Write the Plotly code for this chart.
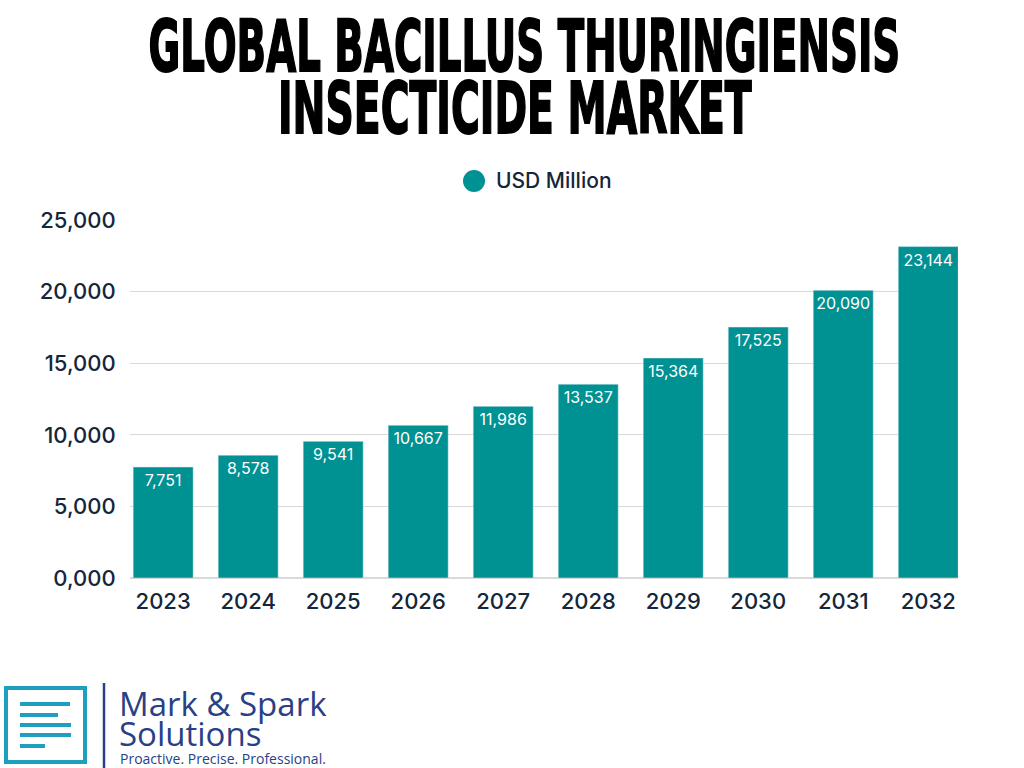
import plotly.graph_objects as go

years = ["2023", "2024", "2025", "2026", "2027", "2028", "2029", "2030", "2031", "2032"]
values = [7751, 8578, 9541, 10667, 11986, 13537, 15364, 17525, 20090, 23144]
tick_vals = [0, 5000, 10000, 15000, 20000, 25000]
tick_text = ["0,000", "5,000", "10,000", "15,000", "20,000", "25,000"]
series_name = "USD Million"
title_lines = ["GLOBAL BACILLUS THURINGIENSIS", "INSECTICIDE MARKET"]

W, H = 1024, 768
ML, MR, MT, MB = 130, 66, 220, 190
PW, PH = W - ML - MR, H - MT - MB

def px(x):
    return (x - ML) / PW

def py(y):
    return (H - MB - y) / PH

BAR = "#009193"
NAVY_TXT = "#15263a"
LOGO_BLUE = "#1e9fc0"
LOGO_NAVY = "#2a3f86"

fig = go.Figure()
fig.add_trace(go.Bar(
    x=years, y=values, marker_color=BAR, width=0.706,
    text=[f"{v:,}" for v in values], textposition="inside", insidetextanchor="end",
    textfont=dict(color="white", size=16, family="Inter"),
    showlegend=False, cliponaxis=False,
))

shapes = []
# legend dot
shapes.append(dict(type="circle", xref="paper", yref="paper",
                   x0=px(463), x1=px(485), y0=py(192), y1=py(170),
                   fillcolor=BAR, line=dict(width=0)))
# logo square
shapes.append(dict(type="rect", xref="paper", yref="paper",
                   x0=px(6), x1=px(85), y0=py(762), y1=py(688),
                   line=dict(color=LOGO_BLUE, width=4), fillcolor="rgba(0,0,0,0)"))
for yy, ln in [(704, 50), (715, 38), (725, 51), (735, 51), (746, 25)]:
    shapes.append(dict(type="line", xref="paper", yref="paper",
                       x0=px(20), x1=px(20 + ln), y0=py(yy), y1=py(yy),
                       line=dict(color=LOGO_BLUE, width=4)))
shapes.append(dict(type="line", xref="paper", yref="paper",
                   x0=px(104), x1=px(104), y0=py(683), y1=py(768),
                   line=dict(color=LOGO_NAVY, width=2.5)))

title_font = dict(family="DejaVu Sans", size=71, color="black", weight="bold")
annotations = [
    dict(text=title_lines[0], x=px(524), y=py(47), xref="paper", yref="paper",
         showarrow=False, xanchor="center", yanchor="middle", font=title_font),
    dict(text=title_lines[1], x=px(515), y=py(108), xref="paper", yref="paper",
         showarrow=False, xanchor="center", yanchor="middle", font=title_font),
    dict(text=series_name, x=px(494), y=py(181), xref="paper", yref="paper",
         showarrow=False, xanchor="left", yanchor="middle",
         font=dict(family="Inter", size=21, color=NAVY_TXT, weight=500)),
    dict(text="Mark & Spark", x=px(117), y=py(703), xref="paper", yref="paper",
         showarrow=False, xanchor="left", yanchor="middle",
         font=dict(family="Open Sans", size=33, color=LOGO_NAVY)),
    dict(text="Solutions", x=px(117), y=py(733), xref="paper", yref="paper",
         showarrow=False, xanchor="left", yanchor="middle",
         font=dict(family="Open Sans", size=33, color=LOGO_NAVY)),
    dict(text="Proactive. Precise. Professional.", x=px(118), y=py(758), xref="paper", yref="paper",
         showarrow=False, xanchor="left", yanchor="middle",
         font=dict(family="Open Sans", size=14, color=LOGO_NAVY)),
]

fig.update_layout(
    width=W, height=H, margin=dict(l=ML, r=MR, t=MT, b=MB),
    paper_bgcolor="white", plot_bgcolor="white",
    font=dict(family="Inter", color=NAVY_TXT),
    showlegend=False,
    xaxis=dict(type="category", range=[-0.39, 9.35], showgrid=False, showline=False,
               ticks="outside", ticklen=4, tickcolor="rgba(0,0,0,0)",
               tickfont=dict(size=22, color=NAVY_TXT, weight=500)),
    yaxis=dict(range=[0, 25000], tickvals=tick_vals, ticktext=tick_text,
               showgrid=True, gridcolor="#d9d9d9", gridwidth=1, zeroline=True,
               zerolinecolor="#d9d9d9", ticks="outside", ticklen=9, tickcolor="rgba(0,0,0,0)",
               tickfont=dict(size=22, color=NAVY_TXT, weight=500)),
    shapes=shapes, annotations=annotations,
)

post = """
document.body.style.margin='0';
var gd = document.getElementById('{plot_id}');
var targets = {'GLOBAL BACILLUS THURINGIENSIS': 752, 'INSECTICIDE MARKET': 474};
gd.querySelectorAll('.annotation-text').forEach(function(t){
  var w = targets[t.textContent];
  if (!w) return;
  var bb = t.getBBox();
  var sx = w / bb.width;
  var cx = bb.x + bb.width / 2, cy = bb.y + bb.height / 2;
  var orig = t.getAttribute('transform') || '';
  t.setAttribute('transform', orig + ' translate(' + cx + ',' + cy + ') scale(' + sx + ',1) translate(' + (-cx) + ',' + (-cy) + ')');
  t.style.stroke = 'black';
  t.style.strokeWidth = '2px';
  t.style.strokeLinejoin = 'miter';
});
"""
fig.write_html("out.html", post_script=post, config={"displayModeBar": False})
